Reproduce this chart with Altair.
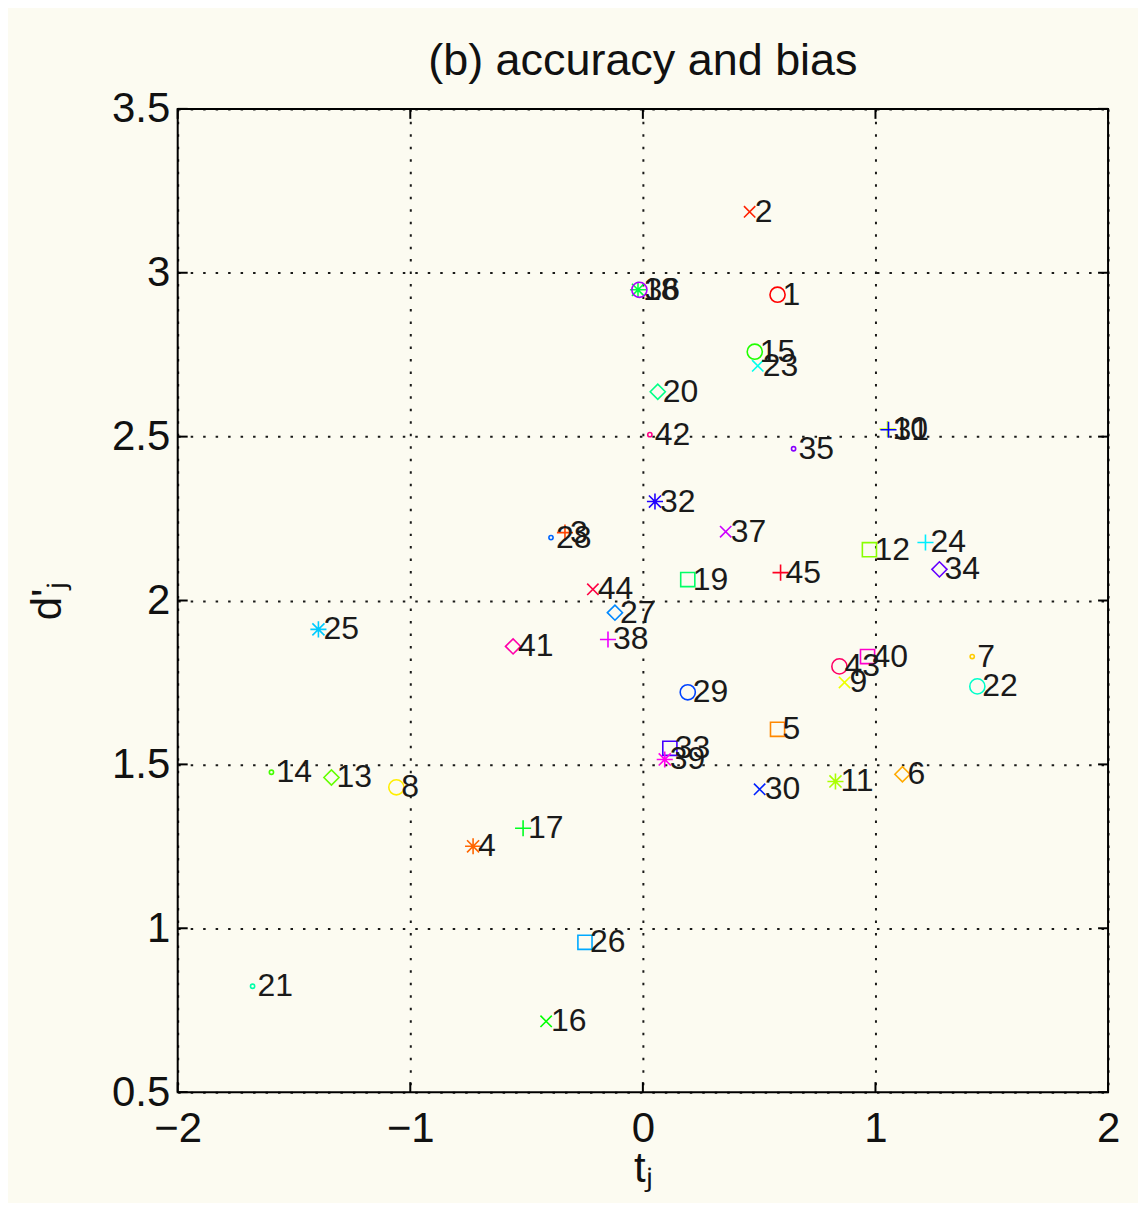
import colorsys
import altair as alt
import pandas as pd

# ---- data ----
ids = list(range(1, 46))
t_vals = [0.579, 0.459, -0.335, -0.73, 0.579, 1.116, 1.416, -1.06, 0.867, 1.052,
          0.828, 0.974, -1.339, -1.597, 0.481, -0.416, -0.515, -0.021, 0.193, 0.064,
          -1.678, 1.438, 0.494, 1.215, -1.395, -0.249, -0.12, -0.395, 0.193, 0.502,
          1.056, 0.052, 0.116, 1.275, 0.648, -0.015, 0.356, -0.15, 0.094, 0.966,
          -0.558, 0.03, 0.845, -0.215, 0.592]
d_vals = [2.933, 3.186, 2.207, 1.25, 1.607, 1.47, 1.829, 1.43, 1.75, 2.523,
          1.448, 2.155, 1.46, 1.476, 2.759, 0.716, 1.305, 2.948, 2.064, 2.637,
          0.823, 1.738, 2.716, 2.177, 1.912, 0.957, 1.963, 2.192, 1.72, 1.424,
          2.521, 2.302, 1.549, 2.095, 2.463, 2.948, 2.21, 1.881, 1.515, 1.829,
          1.86, 2.506, 1.799, 2.034, 2.085]

x_ticks = [-2, -1, 0, 1, 2]
y_ticks = [0.5, 1, 1.5, 2, 2.5, 3, 3.5]

# ---- styles (MATLAB-like marker cycle and hsv colours) ----
PATH_X = "M-0.75,-0.75L0.75,0.75M-0.75,0.75L0.75,-0.75"
PATH_PLUS = "M-1,0L1,0M0,-1L0,1"
PATH_STAR = PATH_PLUS + PATH_X
marker_cycle = ["circle", "circle", PATH_X, PATH_PLUS, PATH_STAR, "square", "diamond"]
size_cycle = [18, 230, 230, 260, 260, 200, 230]


def hsv_hex(h):
    r, g, b = colorsys.hsv_to_rgb(h, 1.0, 1.0)
    return "#%02x%02x%02x" % (int(r * 255), int(g * 255), int(b * 255))


df = pd.DataFrame({"id": ids, "t": t_vals, "d": d_vals})
df["label"] = df["id"].astype(str)
df["shape"] = [marker_cycle[i % 7] for i in ids]
df["size"] = [size_cycle[i % 7] for i in ids]
df["color"] = [hsv_hex((i - 1) / 45.0) for i in ids]

FONT = "Liberation Sans"
W, H = 932, 985

x_scale = alt.Scale(domain=[-2, 2], nice=False, zero=False)
y_scale = alt.Scale(domain=[0.5, 3.5], nice=False, zero=False)

x_axis = alt.Axis(values=x_ticks, format="~g", title="tⱼ", grid=True,
                  gridColor="black", gridDash=[2.5, 10], gridWidth=2, gridOpacity=0.9,
                  tickSize=0, domain=False, labelFontSize=42, labelFont=FONT,
                  labelColor="#111", labelPadding=16, labelFlush=False,
                  titleFontSize=42, titleFont=FONT, titleFontWeight="normal",
                  titleColor="#111", titlePadding=0)
y_axis = alt.Axis(values=y_ticks, format="~g", title="d'ⱼ", grid=True,
                  gridColor="black", gridDash=[2.5, 10], gridWidth=2, gridOpacity=0.9,
                  tickSize=0, domain=False, labelFontSize=42, labelFont=FONT,
                  labelColor="#111", labelPadding=8, labelFlush=False,
                  titleFontSize=42, titleFont=FONT, titleFontWeight="normal",
                  titleColor="#111", titlePadding=42)


def X(field):
    return alt.X(field, scale=x_scale, axis=x_axis)


def Y(field):
    return alt.Y(field, scale=y_scale, axis=y_axis)


base = alt.Chart(df)

points = base.mark_point(filled=False, strokeWidth=1.6, opacity=1).encode(
    x=X("t:Q"),
    y=Y("d:Q"),
    shape=alt.Shape("shape:N", scale=None),
    color=alt.Color("color:N", scale=None),
    size=alt.Size("size:Q", scale=None),
)

labels = base.mark_text(align="left", baseline="middle", dx=5, fontSize=32,
                        font=FONT, color="#1a1a1a").encode(
    x=X("t:Q"),
    y=Y("d:Q"),
    text="label:N",
)

xt = pd.DataFrame({"v": x_ticks})
yt = pd.DataFrame({"v": y_ticks})
tick_style = dict(color="black", strokeWidth=2)
x_ticks_bottom = alt.Chart(xt).mark_rule(**tick_style).encode(
    x=X("v:Q"), y=alt.value(H), y2=alt.value(H - 10))
x_ticks_top = alt.Chart(xt).mark_rule(**tick_style).encode(
    x=X("v:Q"), y=alt.value(0), y2=alt.value(10))
y_ticks_left = alt.Chart(yt).mark_rule(**tick_style).encode(
    y=Y("v:Q"), x=alt.value(0), x2=alt.value(10))
y_ticks_right = alt.Chart(yt).mark_rule(**tick_style).encode(
    y=Y("v:Q"), x=alt.value(W), x2=alt.value(W - 10))

chart = alt.layer(x_ticks_bottom, x_ticks_top, y_ticks_left, y_ticks_right,
                  points, labels).properties(
    width=W, height=H,
    title=alt.TitleParams("(b) accuracy and bias", fontSize=45, font=FONT,
                          fontWeight="normal", color="#111", offset=4,
                          anchor="middle"),
    padding={"left": 170, "top": 100, "right": 30, "bottom": 110},
    autosize="none",
    background="#fcfbf1",
).configure_view(stroke="black", strokeWidth=2, fill="#fcfbf1")

chart.save("out.html", embed_options={"renderer": "svg", "actions": False})
